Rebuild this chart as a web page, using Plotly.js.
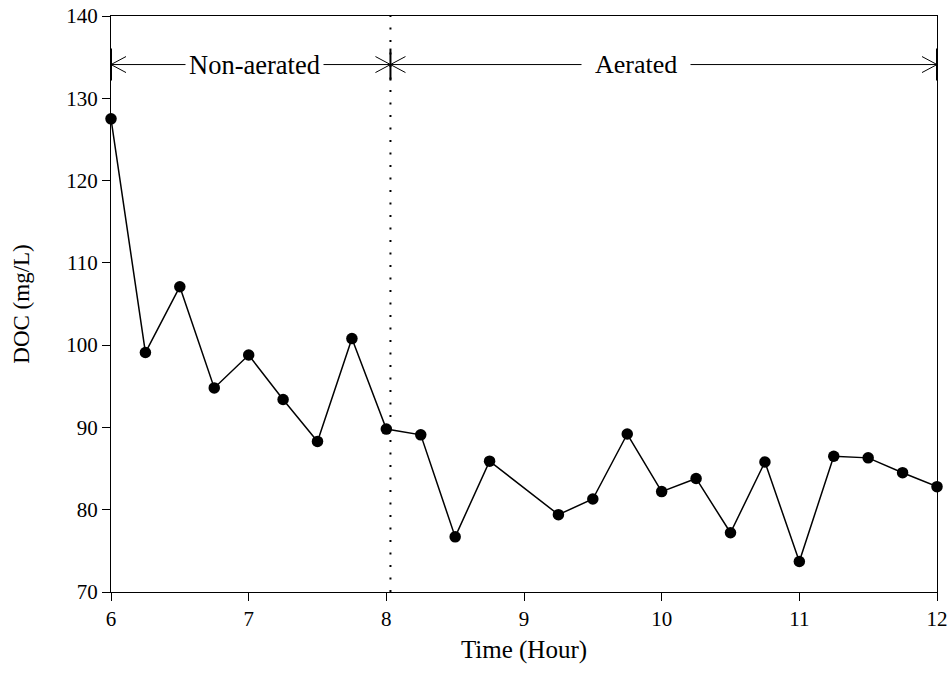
<!DOCTYPE html>
<html>
<head>
<meta charset="utf-8">
<script src="https://cdn.plot.ly/plotly-3.0.1.min.js"></script>
<style>html,body{margin:0;padding:0;background:#fff;}#chart{width:950px;height:691px;}</style>
</head>
<body>
<div id="chart"></div>
<script>
// Data
const hours = [6, 6.25, 6.5, 6.75, 7, 7.25, 7.5, 7.75, 8, 8.25, 8.5, 8.75,
               9.25, 9.5, 9.75, 10, 10.25, 10.5, 10.75, 11, 11.25, 11.5, 11.75, 12];
const doc = [127.5, 99.1, 107.1, 94.8, 98.8, 93.4, 88.3, 100.8, 89.8, 89.1, 76.7, 85.9,
             79.4, 81.3, 89.2, 82.2, 83.8, 77.2, 85.8, 73.7, 86.5, 86.3, 84.5, 82.8];
const xTicks = [6, 7, 8, 9, 10, 11, 12];
const yTicks = [70, 80, 90, 100, 110, 120, 130, 140];
const phaseStart = 6, phaseSwitch = 8.03, phaseEnd = 12;
const arrowLevel = 134.1;
const phaseLabels = ['Non-aerated', 'Aerated'];
const phaseLabelX = [7.04, 9.81];

const FONT = '"Liberation Serif", "Times New Roman", serif';

const trace = {
  x: hours, y: doc, type: 'scatter', mode: 'lines+markers',
  line: {color: '#000', width: 1.5},
  marker: {color: '#000', size: 11.5, symbol: 'circle'},
  cliponaxis: false, hoverinfo: 'x+y'
};

function chevron(x, dir) {
  const d = dir < 0 ? 15 : -15;
  return {type: 'path', xref: 'x', yref: 'y', xsizemode: 'pixel', ysizemode: 'pixel',
    xanchor: x, yanchor: arrowLevel, path: `M ${d} 8 L 0 0 L ${d} -8`,
    line: {color: '#000', width: 1}};
}
function bar(x) {
  return {type: 'path', xref: 'x', yref: 'y', xsizemode: 'pixel', ysizemode: 'pixel',
    xanchor: x, yanchor: arrowLevel, path: 'M 0 -16 L 0 16',
    line: {color: '#000', width: 2}};
}

const shapes = [
  {type: 'line', xref: 'x', yref: 'y', x0: phaseSwitch, x1: phaseSwitch, y0: 70, y1: 140,
   line: {color: '#000', width: 2, dash: '2px,10.5px'}},
  {type: 'line', xref: 'x', yref: 'y', x0: phaseStart, x1: phaseSwitch, y0: arrowLevel, y1: arrowLevel,
   line: {color: '#000', width: 1}},
  {type: 'line', xref: 'x', yref: 'y', x0: phaseSwitch, x1: phaseEnd, y0: arrowLevel, y1: arrowLevel,
   line: {color: '#000', width: 1}},
  chevron(phaseStart, -1), chevron(phaseSwitch, 1), chevron(phaseSwitch, -1), chevron(phaseEnd, 1),
  bar(phaseStart), bar(phaseSwitch), bar(phaseEnd)
];

const annotations = [
  {x: phaseLabelX[0], y: arrowLevel, xref: 'x', yref: 'y', text: phaseLabels[0], showarrow: false,
   font: {family: FONT, size: 26.5, color: '#000'}, bgcolor: '#fff', borderpad: 3},
  {x: phaseLabelX[1], y: arrowLevel, xref: 'x', yref: 'y', text: phaseLabels[1], showarrow: false,
   font: {family: FONT, size: 26, color: '#000'}, bgcolor: '#fff', borderpad: 13}
];

const layout = {
  width: 950, height: 691,
  margin: {l: 111, r: 13, t: 16, b: 99},
  paper_bgcolor: '#fff', plot_bgcolor: '#fff',
  showlegend: false,
  font: {family: FONT, size: 21, color: '#000'},
  xaxis: {
    range: [6, 12], tickvals: xTicks, ticktext: xTicks.map(String),
    ticks: 'outside', ticklen: 8, tickwidth: 1, tickcolor: '#000',
    showline: true, linecolor: '#000', linewidth: 1, mirror: true,
    showgrid: false, zeroline: false,
    tickfont: {family: FONT, size: 21, color: '#000'},
    title: {text: 'Time (Hour)', font: {family: FONT, size: 25, color: '#000'}, standoff: 10}
  },
  yaxis: {
    range: [70, 140], tickvals: yTicks, ticktext: yTicks.map(String),
    ticks: 'outside', ticklen: 8, tickwidth: 1, tickcolor: '#000',
    showline: true, linecolor: '#000', linewidth: 1, mirror: true,
    showgrid: false, zeroline: false,
    tickfont: {family: FONT, size: 21, color: '#000'},
    title: {text: 'DOC (mg/L)', font: {family: FONT, size: 23, color: '#000'}, standoff: 30}
  },
  shapes: shapes,
  annotations: annotations
};

Plotly.newPlot('chart', [trace], layout, {displayModeBar: false, staticPlot: true});
</script>
</body>
</html>
